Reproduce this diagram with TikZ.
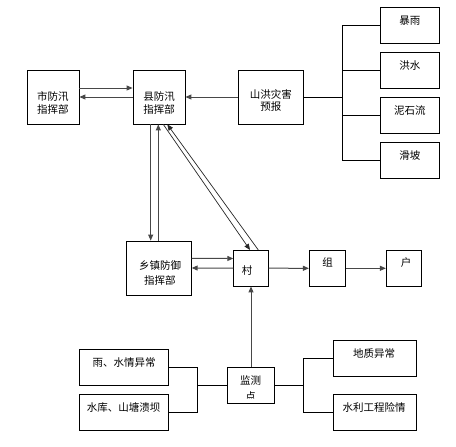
\documentclass[tikz,border=0pt]{standalone}
\usepackage{fontspec}
\newfontfamily\cjk{Noto Sans CJK SC}
\usetikzlibrary{arrows.meta}
\tikzset{
  box/.style={draw=black, line width=0.8pt, rectangle, inner sep=0pt},
  txt/.style={inner sep=0pt, align=center, font={\cjk\fontsize{10.5}{12.3}\selectfont}},
  txtw/.style={inner sep=0pt, align=center, font={\cjk\fontsize{10.5}{15.3}\selectfont}},
  arr/.style={draw=black!72, line width=1pt, -{Triangle[length=6pt,width=5pt]}},
  darr/.style={draw=black!85, line width=0.7pt, -{Triangle[length=6pt,width=5pt]}},
  tree/.style={draw=black, line width=0.8pt}
}
\begin{document}
\begin{tikzpicture}[x=1pt,y=-1pt]
\useasboundingbox (0,0) rectangle (456,447);
% boxes
\node[box, minimum width=52pt, minimum height=54pt] (city) at (53,97) {};
\node[box, minimum width=52pt, minimum height=54pt] (county) at (159,97) {};
\node[box, minimum width=65pt, minimum height=54pt] (forecast) at (270.8,97) {};
\node[box, minimum width=59pt, minimum height=36pt] (rain) at (409.8,25.3) {};
\node[box, minimum width=59pt, minimum height=36pt] (flood) at (409.8,70.3) {};
\node[box, minimum width=59pt, minimum height=36pt] (debris) at (409.8,115.3) {};
\node[box, minimum width=59pt, minimum height=36pt] (slide) at (409.8,160.3) {};
\node[box, minimum width=64.6pt, minimum height=54pt] (town) at (159,268) {};
\node[box, minimum width=34.6pt, minimum height=35.7pt] (village) at (251,268.2) {};
\node[box, minimum width=36.4pt, minimum height=36pt] (group) at (327.5,268.3) {};
\node[box, minimum width=35.4pt, minimum height=36pt] (house) at (404,268.3) {};
\node[box, minimum width=47.4pt, minimum height=36pt] (monitor) at (251,385.3) {};
\node[box, minimum width=89pt, minimum height=35.7pt] (rainwater) at (123.8,367.2) {};
\node[box, minimum width=89pt, minimum height=35.7pt] (reservoir) at (123.8,412.2) {};
\node[box, minimum width=83pt, minimum height=36pt] (geology) at (374.8,358.3) {};
\node[box, minimum width=83pt, minimum height=36pt] (hydro) at (374.8,412.3) {};
% texts
\node[txt] (cityt) at (53,103) {市防汛\\指挥部};
\node[txt] (countyt) at (159,103) {县防汛\\指挥部};
\node[txt] (forecastt) at (270.8,100.3) {山洪灾害\\预报};
\node[txt] (raint) at (409.8,20.7) {暴雨};
\node[txt] (floodt) at (409.8,65.7) {洪水};
\node[txt] (debrist) at (409.8,110.7) {泥石流};
\node[txt] (slidet) at (409.8,155.7) {滑坡};
\node[txtw] (townt) at (160,273.2) {乡镇防御\\指挥部};
\node[txt] (villaget) at (247,270.7) {村};
\node[txt] (groupt) at (327.7,262.3) {组};
\node[txt] (houset) at (406,262.3) {户};
\node[txt] (rainwatert) at (124,362.7) {雨、水情异常};
\node[txt] (reservoirt) at (123.5,407.7) {水库、山塘溃坝};
\node[txt] (geologyt) at (374,353.3) {地质异常};
\node[txt] (hydrot) at (374,407.3) {水利工程险情};
\begin{scope}
\clip (227,368) rectangle (275,398.6);
\node[txtw] (monitort) at (250.5,388.6) {监测\\点};
\end{scope}
% arrows
\draw[arr] ([yshift=9pt]city.east) -- ([yshift=9pt]county.west);
\draw[arr] (county.west) -- (city.east);
\draw[arr] (forecast.west) -- (county.east);
\draw[arr] ([xshift=-8.3pt]county.south) -- ([xshift=-8.3pt]town.north);
\draw[arr] ([xshift=-0.7pt]town.north) -- ([xshift=-0.7pt]county.south);
\draw[darr] ([xshift=4.3pt]county.south) -- ([xshift=-1pt]village.north);
\draw[darr] ([xshift=7.3pt]village.north) -- ([xshift=8.3pt]county.south);
\draw[arr] ([yshift=9.7pt]town.east) -- ([yshift=9.7pt]village.west);
\draw[arr] (village.west) -- (town.east);
\draw[arr] (village.east) -- (group.west);
\draw[arr] (group.east) -- (house.west);
\draw[arr] (monitor.north) -- (village.south);
% trees
\coordinate (fj) at (342.3,97);
\draw[tree] (forecast.east) -- (fj);
\draw[tree] (rain.west) -| (fj);
\draw[tree] (flood.west) -| (fj);
\draw[tree] (debris.west) -| (fj);
\draw[tree] (slide.west) -| (fj);
\coordinate (lj) at (197.3,385.3);
\draw[tree] (rainwater.east) -| (lj);
\draw[tree] (reservoir.east) -| (lj);
\draw[tree] (lj) -- (monitor.west);
\coordinate (rj) at (303.3,385.3);
\draw[tree] (geology.west) -| (rj);
\draw[tree] (hydro.west) -| (rj);
\draw[tree] (monitor.east) -- (rj);
\end{tikzpicture}
\end{document}
